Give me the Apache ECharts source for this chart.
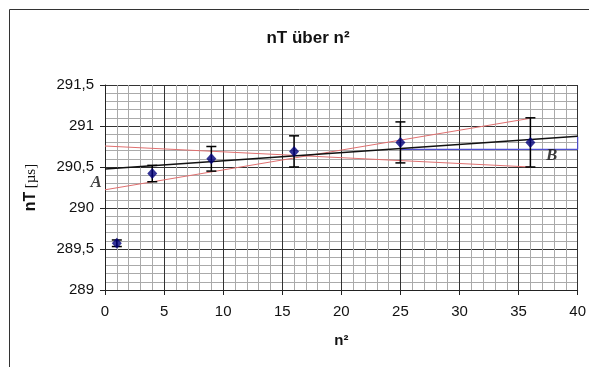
<!DOCTYPE html>
<html><head><meta charset="utf-8">
<script src="https://cdn.jsdelivr.net/npm/echarts@6/dist/echarts.min.js"></script>
<style>html,body{margin:0;padding:0;background:#fff}#c{width:589px;height:367px}</style>
</head><body><div id="c"></div>
<script>
var nSquared = [1, 4, 9, 16, 25, 36];
var nT = [289.57, 290.42, 290.60, 290.69, 290.80, 290.80];
var nTErr = [0.04, 0.10, 0.15, 0.19, 0.25, 0.30];
var fitLine = [[0, 290.476], [40, 290.874]];
var redLineA = [[0, 290.756], [36, 290.50]];
var redLineB = [[0, 290.222], [36, 291.094]];
var blueLine = [[25, 290.716], [40, 290.716], [40, 290.87]];
var labelA = [-0.75, 290.305];
var labelB = [37.8, 290.645];
var xTicks = [0, 40, 5];
var yTicks = [289, 291.5, 0.5];

var chart = echarts.init(document.getElementById('c'));
var pts = nSquared.map(function (x, i) { return [x, nT[i]]; });
var errs = nSquared.map(function (x, i) { return [x, nT[i], nTErr[i]]; });

chart.setOption({
  animation: false,
  backgroundColor: '#fff',
  graphic: [{
    type: 'polyline', silent: true, z: 0,
    shape: { points: [[9.5, 400], [9.5, 9.5], [600, 9.5]] },
    style: { stroke: '#333', lineWidth: 1, fill: null }
  }],
  title: {
    text: 'nT über n²', left: 303, top: 25, textAlign: 'center',
    textStyle: { fontFamily: 'Arial, Liberation Sans', fontSize: 17, fontWeight: 'bold', color: '#111' }
  },
  grid: { left: 105, right: 11, top: 85, bottom: 77 },
  xAxis: {
    type: 'value', min: xTicks[0], max: xTicks[1], interval: xTicks[2],
    name: 'n²', nameLocation: 'middle', nameGap: 43,
    nameTextStyle: { fontFamily: 'Arial, Liberation Sans', fontSize: 15, fontWeight: 'bold', color: '#111' },
    axisLine: { show: true, onZero: false, lineStyle: { color: '#222', width: 1 } },
    axisTick: { show: true, length: 5, lineStyle: { color: '#222' } },
    axisLabel: { fontFamily: 'Arial, Liberation Sans', fontSize: 15, color: '#111', margin: 14 },
    splitLine: { show: true, lineStyle: { color: '#333', width: 1 } },
    minorTick: { show: false, splitNumber: 5 },
    minorSplitLine: { show: true, lineStyle: { color: '#aaa', width: 1 } }
  },
  yAxis: {
    type: 'value', min: yTicks[0], max: yTicks[1], interval: yTicks[2],
    name: '{b|nT} {s|[µs]}', nameLocation: 'middle', nameGap: 66, nameRotate: 90,
    nameTextStyle: {
      rich: {
        b: { fontFamily: 'Arial, Liberation Sans', fontSize: 16, fontWeight: 'bold', color: '#111' },
        s: { fontFamily: 'Times New Roman, Liberation Serif', fontSize: 15, color: '#111' }
      }
    },
    axisLine: { show: true, onZero: false, lineStyle: { color: '#222', width: 1 } },
    axisTick: { show: true, length: 5, lineStyle: { color: '#222' } },
    axisLabel: {
      fontFamily: 'Arial, Liberation Sans', fontSize: 15, color: '#111', margin: 11,
      formatter: function (v) { return String(Math.round(v * 10) / 10).replace('.', ','); }
    },
    splitLine: { show: true, lineStyle: { color: '#333', width: 1 } },
    minorTick: { show: false, splitNumber: 5 },
    minorSplitLine: { show: true, lineStyle: { color: '#aaa', width: 1 } }
  },
  series: [
    { type: 'line', data: redLineA, symbol: 'none', lineStyle: { color: '#e07070', width: 1 }, z: 3 },
    { type: 'line', data: redLineB, symbol: 'none', lineStyle: { color: '#e07070', width: 1 }, z: 3 },
    { type: 'line', data: blueLine, symbol: 'none', lineStyle: { color: '#5050d0', width: 1.2 }, z: 3 },
    { type: 'line', data: fitLine, symbol: 'none', lineStyle: { color: '#111', width: 1.5 }, z: 4 },
    {
      type: 'custom', data: errs, z: 5,
      renderItem: function (params, api) {
        var x = api.value(0), y = api.value(1), e = api.value(2);
        var top = api.coord([x, y + e]), bot = api.coord([x, y - e]);
        var w = 5;
        var st = { stroke: '#000', lineWidth: 1.5 };
        return { type: 'group', children: [
          { type: 'line', shape: { x1: top[0], y1: top[1], x2: bot[0], y2: bot[1] }, style: st },
          { type: 'line', shape: { x1: top[0] - w, y1: top[1], x2: top[0] + w, y2: top[1] }, style: st },
          { type: 'line', shape: { x1: bot[0] - w, y1: bot[1], x2: bot[0] + w, y2: bot[1] }, style: st }
        ] };
      }
    },
    { type: 'scatter', data: pts, symbol: 'diamond', symbolSize: [10, 11], itemStyle: { color: '#00007a' }, z: 6 },
    {
      type: 'scatter', data: [labelA, labelB], symbolSize: 0, clip: false, z: 7,
      label: {
        show: true, position: 'inside',
        formatter: function (p) { return p.dataIndex === 0 ? 'A' : 'B'; },
        fontFamily: 'Times New Roman, Liberation Serif', fontStyle: 'italic', fontWeight: 'bold', fontSize: 17, color: '#111'
      }
    }
  ]
});
</script></body></html>
